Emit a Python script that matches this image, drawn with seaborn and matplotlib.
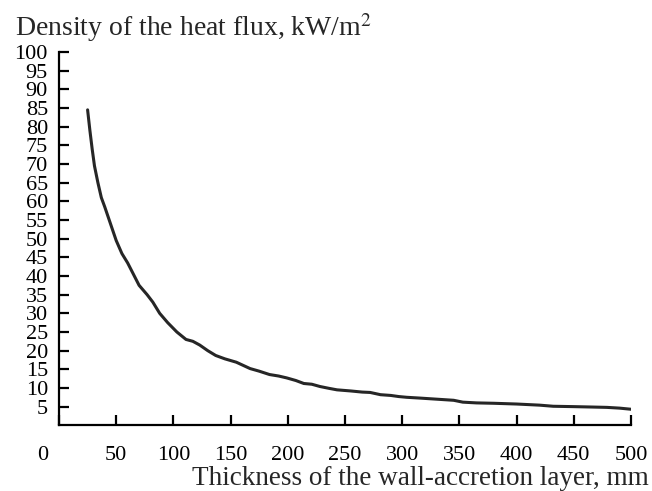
import matplotlib
matplotlib.use("Agg")
import matplotlib.pyplot as plt
import matplotlib.transforms as mtransforms
import seaborn as sns
import pandas as pd

thickness_mm = [25, 27, 29, 31, 34, 37, 40, 45, 50, 55, 60, 65, 70, 77, 82, 88, 95,
                103, 111, 117, 123, 130, 137, 145, 155, 167, 175, 184, 192, 199,
                207, 214, 221, 228, 236, 243, 255, 265, 272, 281, 290, 297, 304,
                315, 330, 345, 353, 365, 380, 400, 420, 432, 450, 465, 479, 490, 500]
heat_flux = [84.5, 79, 74, 69.5, 65, 61, 58.5, 54, 49.5, 46, 43.5, 40.5, 37.5, 35, 33, 30,
             27.5, 25, 23, 22.5, 21.5, 20, 18.7, 17.8, 16.9, 15.2, 14.5, 13.6, 13.2,
             12.7, 12, 11.2, 11, 10.4, 9.9, 9.5, 9.2, 8.9, 8.8, 8.2, 8.0, 7.7, 7.5,
             7.3, 7.0, 6.7, 6.2, 6.0, 5.9, 5.7, 5.4, 5.1, 5.0, 4.9, 4.8, 4.6, 4.3]
x_ticks = [0, 50, 100, 150, 200, 250, 300, 350, 400, 450, 500]
y_ticks = [5, 10, 15, 20, 25, 30, 35, 40, 45, 50, 55, 60, 65, 70, 75, 80, 85, 90, 95, 100]
y_title = "Density of the heat flux, kW/m$^{2}$"
x_title = "Thickness of the wall-accretion layer, mm"

sns.set_style("ticks")
plt.rcParams["font.family"] = ["Liberation Serif", "DejaVu Serif"]
plt.rcParams["mathtext.fontset"] = "stix"

df = pd.DataFrame({"thickness": thickness_mm, "flux": heat_flux})

fig = plt.figure(figsize=(6.52, 4.91), dpi=100)
ax = fig.add_axes([59 / 652, 1 - 425.3 / 491, (631 - 59) / 652, (425.3 - 52) / 491])

sns.lineplot(data=df, x="thickness", y="flux", ax=ax, color="#262626", linewidth=2.2)

ax.set_xlim(0, 500)
ax.set_ylim(0, 100)
ax.set_xticks(x_ticks)
ax.set_xticklabels([str(v) for v in x_ticks])
ax.set_yticks(y_ticks)
ax.set_yticklabels([str(v) for v in y_ticks])
ax.set_xlabel("")
ax.set_ylabel("")

for s in ["top", "right"]:
    ax.spines[s].set_visible(False)
for s in ["left", "bottom"]:
    ax.spines[s].set_linewidth(1.6)
    ax.spines[s].set_color("black")

ax.tick_params(axis="both", direction="in", length=7, width=1.6, colors="black",
               labelsize=16)
ax.tick_params(axis="y", pad=8)
ax.tick_params(axis="x", pad=15)

# shift the "0" label to the left, as in the reference
lbl0 = ax.get_xticklabels()[0]
lbl0.set_transform(lbl0.get_transform() + mtransforms.ScaledTranslation(-16 / 100, 0, fig.dpi_scale_trans))

fig.text(15 / 652, 1 - 36 / 491, y_title, ha="left", va="baseline", fontsize=20)
fig.text(649 / 652, 1 - 485 / 491, x_title, ha="right", va="baseline", fontsize=19.5)

fig.savefig("out.png", dpi=100)
